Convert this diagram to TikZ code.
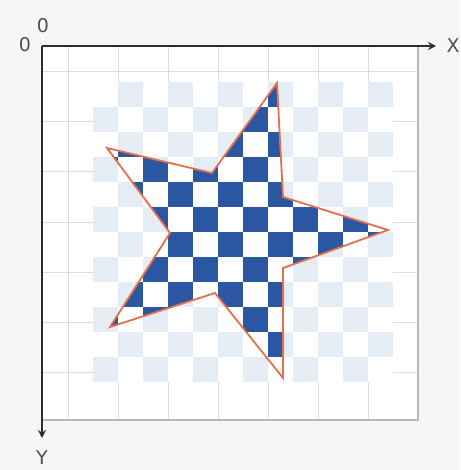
\documentclass[tikz,border=0pt]{standalone}
\usepackage{fontspec}
\setmainfont{DejaVu Sans}
\usetikzlibrary{arrows.meta}
\definecolor{bggrey}{HTML}{F6F6F6}
\definecolor{gridgrey}{HTML}{DCDCDC}
\definecolor{bordergrey}{HTML}{B8B8B8}
\definecolor{axisgrey}{HTML}{2E2E2E}
\definecolor{labelgrey}{HTML}{505050}
\definecolor{lightchk}{HTML}{E6ECF4}
\definecolor{darkchk}{HTML}{2A56A2}
\definecolor{starline}{HTML}{E56F4B}
\tikzset{
  gridline/.style={draw=gridgrey, line width=1pt},
  axisline/.style={draw=axisgrey, line width=2.4pt, -{Stealth[length=8pt,width=8pt]}},
  axislabel/.style={text=labelgrey, font=\fontsize{19}{19}\selectfont, inner sep=0pt},
  staroutline/.style={draw=starline, line width=1.8pt, line join=miter},
}
\begin{document}
\begin{tikzpicture}[x=1pt,y=-1pt]
\useasboundingbox (0,0) rectangle (460,470);
\fill[bggrey] (0,0) rectangle (460,470);
% panel
\fill[white] (42,46) rectangle (418,420);
\foreach \x in {68,118,...,368} \draw[gridline] (\x,46) -- (\x,420);
\foreach \y in {72,122,...,372} \draw[gridline] (42,\y) -- (418,\y);
\draw[draw=bordergrey, line width=1.6pt] (418,46) -- (418,420) -- (42,420);
% texture
\fill[white] (93,82) rectangle (393,382);
\foreach \i in {0,...,11} \foreach \k in {0,...,5} {
  \pgfmathtruncatemacro\j{2*\k+1-mod(\i,2)}
  \fill[lightchk] (93+25*\j,82+25*\i) rectangle ++(25,25);
}
% star
\coordinate (s1) at (277,83);
\coordinate (s2) at (283,197);
\coordinate (s3) at (388,230);
\coordinate (s4) at (283,268);
\coordinate (s5) at (283,378);
\coordinate (s6) at (215,293);
\coordinate (s7) at (110,327);
\coordinate (s8) at (170,233);
\coordinate (s9) at (107,148);
\coordinate (s10) at (212,173);
\begin{scope}
\clip (s1) -- (s2) -- (s3) -- (s4) -- (s5) -- (s6) -- (s7) -- (s8) -- (s9) -- (s10) -- cycle;
\fill[white] (93,82) rectangle (393,382);
\foreach \i in {0,...,11} \foreach \k in {0,...,5} {
  \pgfmathtruncatemacro\j{2*\k+1-mod(\i,2)}
  \fill[darkchk] (93+25*\j,82+25*\i) rectangle ++(25,25);
}
\end{scope}
\draw[staroutline] (s1) -- (s2) -- (s3) -- (s4) -- (s5) -- (s6) -- (s7) -- (s8) -- (s9) -- (s10) -- cycle;
% axes
\coordinate (o) at (42,46);
\coordinate (xend) at (436,46);
\coordinate (yend) at (42,438);
\draw[axisline] (o) -- (xend);
\draw[axisline] (o) -- (yend);
\node[axislabel] (xl) at (453,46) {X};
\node[axislabel] (yl) at (42,458) {Y};
\node[axislabel] (o1) at (25,45) {0};
\node[axislabel] (o2) at (43,26) {0};
\end{tikzpicture}
\end{document}
